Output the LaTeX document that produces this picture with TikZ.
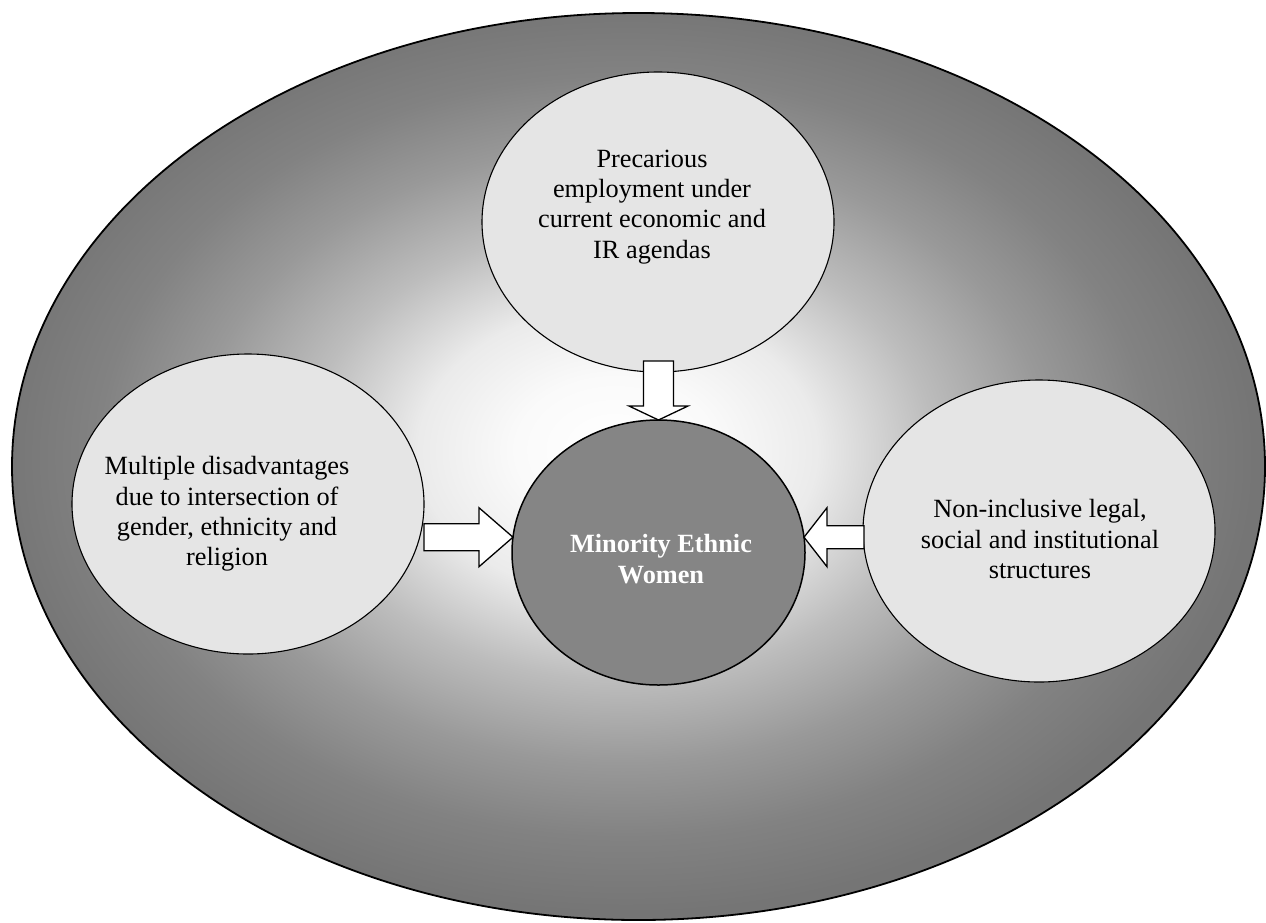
\documentclass[tikz,border=0pt]{standalone}
\usepackage{fontspec}
\setmainfont{Liberation Serif}
\usetikzlibrary{shapes.geometric}
\definecolor{glowa}{gray}{0.98}
\definecolor{glowb}{gray}{0.92}
\definecolor{glowc}{gray}{0.74}
\definecolor{glowd}{gray}{0.60}
\definecolor{glowe}{gray}{0.51}
\definecolor{glowf}{gray}{0.46}
\definecolor{bubblegray}{gray}{0.9}
\definecolor{coregray}{gray}{0.52}
\pgfdeclareradialshading{outerglow}{\pgfpoint{-1bp}{1bp}}{color(0bp)=(white); color(4bp)=(glowa); color(8bp)=(glowb); color(12.5bp)=(glowc); color(17bp)=(glowd); color(21bp)=(glowe); color(25bp)=(glowf); color(50bp)=(glowf)}
\newcommand{\blockarrow}[6]{%
  \draw[arrowbox, shift={#1}, rotate=#2]
    (0,0) -- (-#6,#5) -- (-#6,#4) -- (-#3,#4) -- (-#3,-#4) -- (-#6,-#4) -- (-#6,-#5) -- cycle;
}
\begin{document}
\begin{tikzpicture}[x=1pt, y=-1pt,
  bubble/.style={ellipse, draw, line width=1.1pt, fill=bubblegray, inner sep=0pt, outer sep=0pt,
    minimum width=352pt, minimum height=300pt},
  bubbletext/.style={align=center, font=\fontsize{26.3pt}{30.2pt}\selectfont},
  arrowbox/.style={draw, fill=white, line width=1.3pt, line join=miter}]
  \useasboundingbox (0,0) rectangle (1266,922);
  \node[ellipse, draw, line width=1.8pt, shading=outerglow, inner sep=0pt, outer sep=0pt,
    minimum width=1253pt, minimum height=907pt] (frame) at (638.5,466.5) {};
  \node[bubble] (prec) at (658,222) {};
  \node[bubble] (multi) at (248,504) {};
  \node[bubble, minimum height=302pt] (legal) at (1039,531) {};
  \node[ellipse, draw, line width=1.5pt, fill=coregray, inner sep=0pt, outer sep=0pt,
    minimum width=293pt, minimum height=265pt] (core) at (658.5,552.5) {};
  \node[bubbletext] (prectext) at (652,207)
    {Precarious\\employment under\\current economic and\\IR agendas};
  \node[bubbletext] (multitext) at (227,514)
    {Multiple disadvantages\\due to intersection of\\gender, ethnicity and\\religion};
  \node[bubbletext] (legaltext) at (1040,539)
    {Non-inclusive legal,\\social and institutional\\structures};
  \node[bubbletext, text=white, font=\fontsize{26.3pt}{30.2pt}\selectfont\bfseries] (coretext) at (661,559)
    {Minority Ethnic\\Women};
  \blockarrow{(core.north)}{-90}{59}{15}{29.5}{14}
  \blockarrow{(core.174)}{0}{89}{13.5}{29.5}{34}
  \blockarrow{(core.6)}{180}{60}{11.5}{29.5}{23}
\end{tikzpicture}
\end{document}
